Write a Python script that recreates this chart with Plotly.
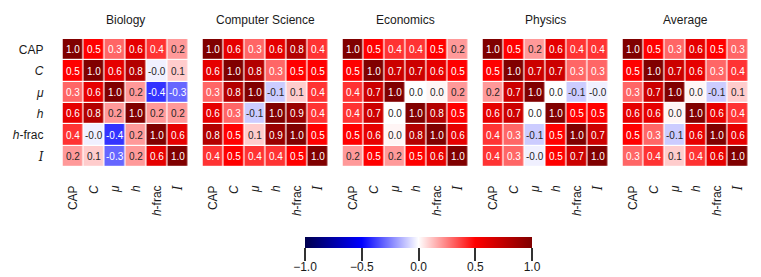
import plotly.graph_objects as go

# browser body margin offsets the figure by 8px
OX, OY = 8.0, 8.0
W, H = 761 - 8, 277 - 8


def px(x):
    return (x - OX) / W


def py(y):
    return 1 - (y - OY) / H


fields = ["Biology", "Computer Science", "Economics", "Physics", "Average"]
labels = ["CAP", "<i>C</i>", "<i>μ</i>", "<i>h</i>", "<i>h</i>-frac",
          "<span style=\"font-family:'DejaVu Serif'\"><i>I</i></span>"]

biology = [
    [1.0, 0.5, 0.3, 0.6, 0.4, 0.2],
    [0.5, 1.0, 0.6, 0.8, -0.03, 0.1],
    [0.3, 0.6, 1.0, 0.2, -0.4, -0.3],
    [0.6, 0.8, 0.2, 1.0, 0.2, 0.2],
    [0.4, -0.03, -0.4, 0.2, 1.0, 0.6],
    [0.2, 0.1, -0.3, 0.2, 0.6, 1.0],
]
computer_science = [
    [1.0, 0.6, 0.3, 0.6, 0.8, 0.4],
    [0.6, 1.0, 0.8, 0.3, 0.5, 0.5],
    [0.3, 0.8, 1.0, -0.1, 0.1, 0.4],
    [0.6, 0.3, -0.1, 1.0, 0.9, 0.4],
    [0.8, 0.5, 0.1, 0.9, 1.0, 0.5],
    [0.4, 0.5, 0.4, 0.4, 0.5, 1.0],
]
economics = [
    [1.0, 0.5, 0.4, 0.4, 0.5, 0.2],
    [0.5, 1.0, 0.7, 0.7, 0.6, 0.5],
    [0.4, 0.7, 1.0, 0.0, 0.02, 0.2],
    [0.4, 0.7, 0.0, 1.0, 0.8, 0.5],
    [0.5, 0.6, 0.02, 0.8, 1.0, 0.6],
    [0.2, 0.5, 0.2, 0.5, 0.6, 1.0],
]
physics = [
    [1.0, 0.5, 0.2, 0.6, 0.4, 0.4],
    [0.5, 1.0, 0.7, 0.7, 0.3, 0.3],
    [0.2, 0.7, 1.0, 0.0, -0.1, -0.03],
    [0.6, 0.7, 0.0, 1.0, 0.5, 0.5],
    [0.4, 0.3, -0.1, 0.5, 1.0, 0.7],
    [0.4, 0.3, -0.03, 0.5, 0.7, 1.0],
]
average = [
    [1.0, 0.5, 0.3, 0.6, 0.5, 0.3],
    [0.5, 1.0, 0.7, 0.6, 0.3, 0.4],
    [0.3, 0.7, 1.0, 0.02, -0.1, 0.1],
    [0.6, 0.6, 0.02, 1.0, 0.6, 0.4],
    [0.5, 0.3, -0.1, 0.6, 1.0, 0.6],
    [0.3, 0.4, 0.1, 0.4, 0.6, 1.0],
]
matrices = [biology, computer_science, economics, physics, average]

cbar_ticks = [-1.0, -0.5, 0.0, 0.5, 1.0]

seismic = [
    [0.0, "rgb(0,0,77)"],
    [0.25, "rgb(0,0,255)"],
    [0.5, "rgb(255,255,255)"],
    [0.75, "rgb(255,0,0)"],
    [1.0, "rgb(128,0,0)"],
]

FONT = "Liberation Sans, Arial, Helvetica, sans-serif"

fig = go.Figure()
annotations = []

x_left0, pitch, pw = 62.5, 140.0, 126.0
y_top, y_bot = 39.0, 167.0
ydom = [py(y_bot), py(y_top)]

for i, (name, m) in enumerate(zip(fields, matrices)):
    ax = "" if i == 0 else str(i + 1)
    x0 = x_left0 + pitch * i
    xdom = [px(x0), px(x0 + pw)]
    fig.add_trace(go.Heatmap(
        z=m, x=list(range(6)), y=list(range(6)),
        coloraxis="coloraxis", xgap=1.2, ygap=1.2,
        xaxis="x" + ax, yaxis="y" + ax, hoverinfo="skip",
    ))
    for r in range(6):
        for c in range(6):
            v = m[r][c]
            annotations.append(dict(
                x=c, y=r, xref="x" + ax, yref="y" + ax,
                text=f"{v:.1f}", showarrow=False,
                font=dict(size=10, family=FONT,
                          color="white" if abs(v) >= 0.25 else "#262626"),
            ))
    annotations.append(dict(
        x=px(x0 + pw / 2), y=py(20), xref="paper", yref="paper",
        text=name, showarrow=False, xanchor="center", yanchor="middle",
        font=dict(size=12, family=FONT, color="#1a1a1a"),
    ))
    fig.update_layout(**{
        "xaxis" + ax: dict(
            domain=xdom, anchor="y" + ax, range=[-0.5, 5.5],
            tickvals=list(range(6)), ticktext=labels, tickangle=-90,
            showgrid=False, zeroline=False, showline=False, ticks="",
            ticklabelstandoff=15, automargin=False,
            tickfont=dict(size=12, family=FONT, color="#1a1a1a"),
        ),
        "yaxis" + ax: dict(
            domain=ydom, anchor="x" + ax, range=[5.5, -0.5],
            tickvals=list(range(6)), ticktext=labels,
            showticklabels=(i == 0), automargin=False,
            showgrid=False, zeroline=False, showline=False, ticks="",
            ticklabelstandoff=18,
            tickfont=dict(size=12, family=FONT, color="#1a1a1a"),
        ),
    })

cb_left, cb_right, cb_top = 305.0, 532.0, 237.0

# helper axis that carries the colorbar's tick marks
fig.add_trace(go.Scatter(
    x=[cbar_ticks[0], cbar_ticks[-1]], y=[0, 0], mode="markers",
    marker=dict(opacity=0), xaxis="x6", yaxis="y6",
    hoverinfo="skip", showlegend=False,
))
fig.update_layout(
    xaxis6=dict(
        domain=[px(cb_left), px(cb_right)], anchor="y6",
        range=[cbar_ticks[0], cbar_ticks[-1]],
        tickvals=cbar_ticks, showticklabels=False,
        ticks="outside", ticklen=9, tickwidth=2, tickcolor="#333333",
        showgrid=False, zeroline=False, showline=False, automargin=False,
    ),
    yaxis6=dict(
        domain=[py(251), py(250)], anchor="x6", visible=False,
        range=[-1, 1], automargin=False,
    ),
)

fig.update_layout(
    width=W, height=H,
    margin=dict(l=0, r=0, t=0, b=0),
    paper_bgcolor="white", plot_bgcolor="rgba(0,0,0,0)",
    annotations=annotations,
    coloraxis=dict(
        colorscale=seismic, cmin=-1, cmax=1,
        colorbar=dict(
            orientation="h",
            x=px((cb_left + cb_right) / 2), xanchor="center",
            y=py(cb_top), yanchor="top",
            len=cb_right - cb_left, lenmode="pixels",
            thickness=11, thicknessmode="pixels",
            xpad=0, ypad=0, outlinewidth=0,
            tickvals=cbar_ticks, tickformat=".1f",
            ticks="outside", ticklen=9, tickwidth=2, tickcolor="#333333",
            tickfont=dict(size=12, family=FONT, color="#1a1a1a"),
        ),
    ),
    showlegend=False,
)

fig.write_html("out.html")
